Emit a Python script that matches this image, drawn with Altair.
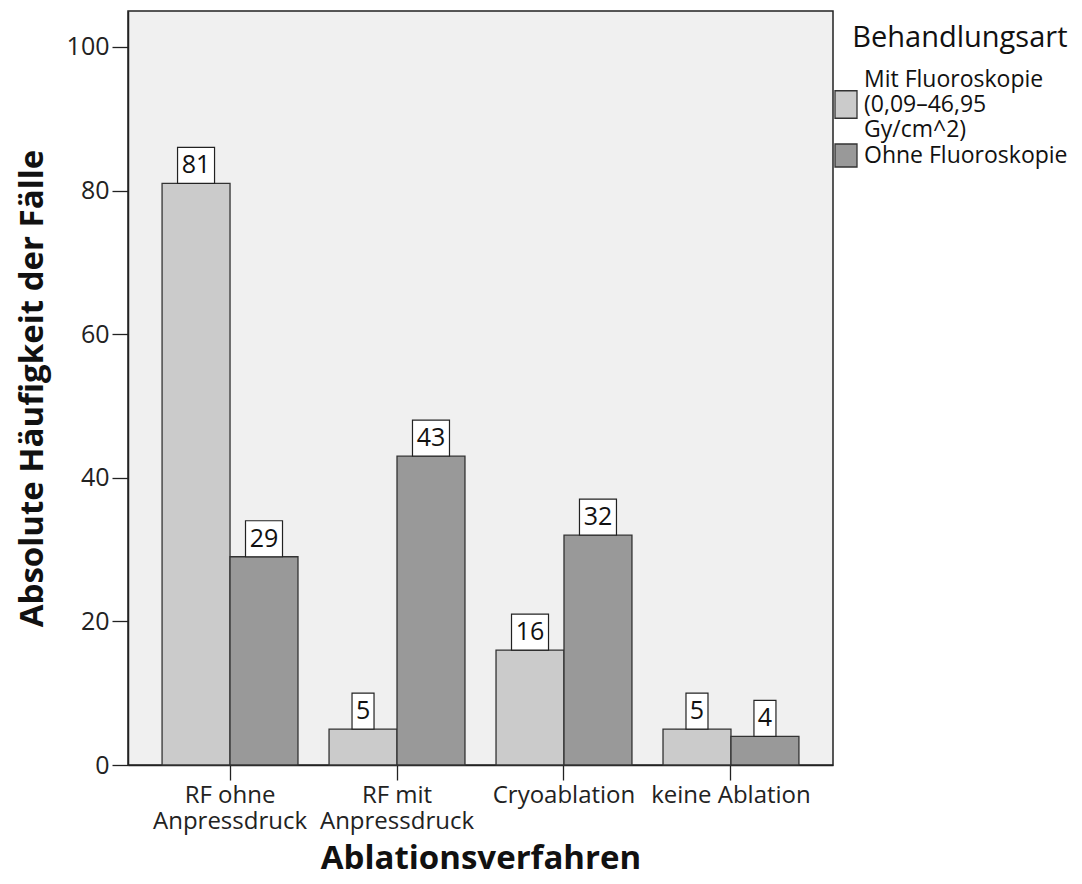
import altair as alt
import pandas as pd

categories = ["RF ohne|Anpressdruck", "RF mit|Anpressdruck", "Cryoablation", "keine Ablation"]
series = ["Mit Fluoroskopie|(0,09–46,95|Gy/cm^2)", "Ohne Fluoroskopie"]
mit_values = [81, 5, 16, 5]
ohne_values = [29, 43, 32, 4]
y_ticks = [0, 20, 40, 60, 80, 100]
colors = ["#cbcbcb", "#999999"]
outline = ["#333333", "#333333"]
symbol_paths = ["M-0.88,0.9H0.88V3.1H-0.88Z", "M-0.88,-0.92H0.88V0.92H-0.88Z"]

rows = []
for c, m, o in zip(categories, mit_values, ohne_values):
    rows.append({"cat": c, "series": series[0], "value": m})
    rows.append({"cat": c, "series": series[1], "value": o})
df = pd.DataFrame(rows)

FONT = "Open Sans"

x = alt.X(
    "cat:N", sort=categories, title="Ablationsverfahren",
    scale=alt.Scale(paddingInner=0.186, paddingOuter=0.204),
    axis=alt.Axis(labelExpr="split(datum.label, '|')", labelAngle=0, labelFontSize=24,
                  labelFont=FONT, labelColor="#222", labelPadding=3, tickSize=15,
                  tickColor="#222", tickWidth=1.3, domainColor="#222", domainWidth=1.5,
                  labelBaseline="top", titleFont=FONT, titleFontSize=33, titleFontWeight="bold",
                  titleColor="#111", titlePadding=9),
)
xo = alt.XOffset("series:N", sort=series, scale=alt.Scale(paddingInner=0, paddingOuter=0))
y = alt.Y(
    "value:Q", title="Absolute Häufigkeit der Fälle",
    scale=alt.Scale(domain=[0, 105], nice=False),
    axis=alt.Axis(values=y_ticks, grid=False, labelFontSize=25, labelFont=FONT, labelColor="#222",
                  tickSize=16, tickColor="#222", tickWidth=1.3, domainColor="#222", domainWidth=1.5,
                  labelPadding=3, titleFont=FONT, titleFontSize=33, titleFontWeight="bold",
                  titleColor="#111", titlePadding=17),
)
legend = alt.Legend(
    title="Behandlungsart", orient="none", legendX=704.5, legendY=13,
    labelExpr="split(datum.label, '|')", titleFont=FONT, titleFontSize=29, titleLimit=400,
    titleFontWeight="normal", titleColor="#111", titleAnchor="end", titlePadding=13,
    labelFont=FONT, labelFontSize=23, labelColor="#111", labelLimit=400, labelOffset=4.5,
    symbolSize=625, symbolStrokeColor="#333", symbolStrokeWidth=1.3, symbolOpacity=1,
    rowPadding=-2, padding=0,
)
color = alt.Color("series:N", sort=series, scale=alt.Scale(domain=series, range=colors), legend=legend)
shape = alt.Shape("series:N", sort=series, scale=alt.Scale(domain=series, range=symbol_paths), legend=legend)
stroke = alt.Stroke("series:N", sort=series, scale=alt.Scale(domain=series, range=outline), legend=legend)

base = alt.Chart(df)
bars = base.mark_bar(stroke="#333333", strokeWidth=1.3, opacity=1).encode(x=x, xOffset=xo, y=y, color=color)
pts = base.mark_point(size=0, filled=True, opacity=1, strokeWidth=1.3).encode(
    x=x, xOffset=xo, y=y, color=color, shape=shape, stroke=stroke
)

box2 = base.transform_filter("datum.value >= 10").mark_bar(
    width=37, fill="white", stroke="#222", strokeWidth=1.2, y2Offset=-36
).encode(x=x, xOffset=xo, y=y, y2="value:Q")
box1 = base.transform_filter("datum.value < 10").mark_bar(
    width=22, fill="white", stroke="#222", strokeWidth=1.2, y2Offset=-36
).encode(x=x, xOffset=xo, y=y, y2="value:Q")
labels = base.mark_text(dy=-18, fontSize=25, font=FONT, color="#111", baseline="middle").encode(
    x=x, xOffset=xo, y=y, text="value:Q"
)

chart = alt.layer(bars, pts, box2, box1, labels).properties(
    width=705, height=754,
    autosize=alt.AutoSizeParams(type="none"),
    padding={"left": 120, "top": 3, "right": 241, "bottom": 111},
    background="white",
).configure_view(stroke="#222", strokeWidth=1.5, fill="#f0f0f0")

chart.save("out.html", embed_options={"renderer": "svg", "actions": False})
